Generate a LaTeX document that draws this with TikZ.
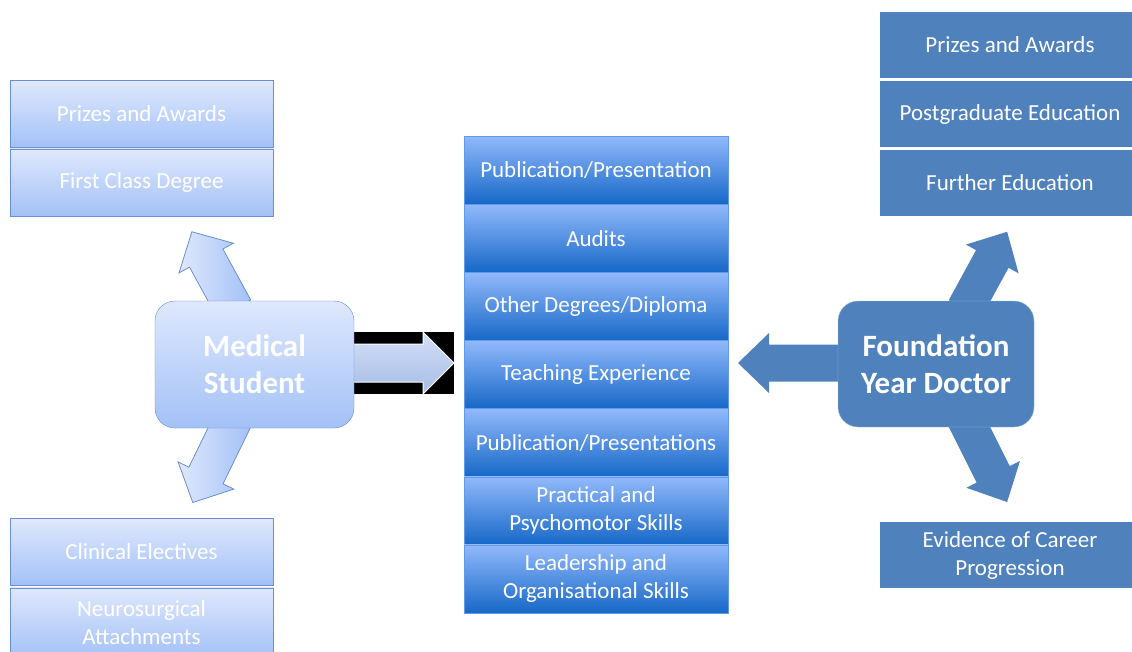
\documentclass[tikz,border=0pt]{standalone}
\usepackage{fontspec}
\setmainfont{Carlito}
\usetikzlibrary{positioning}

\definecolor{paleTop}{HTML}{DFE8FD}
\definecolor{paleBot}{HTML}{A3C1F7}
\definecolor{paleLine}{HTML}{6A8FD0}
\definecolor{midTop}{HTML}{92B9FB}
\definecolor{midMid}{HTML}{6AA0EC}
\definecolor{midBot}{HTML}{1668C8}
\definecolor{midLine}{HTML}{5E9BE8}
\definecolor{fyBlue}{HTML}{4F81BD}
\definecolor{shaftTop}{HTML}{D3DFF6}
\definecolor{shaftBot}{HTML}{A6BCE6}

\tikzset{
  boxtext/.style={text=white, align=center, inner sep=0pt,
    font=\fontsize{23}{28}\selectfont},
  palebox/.style={boxtext, draw=paleLine, top color=paleTop, bottom color=paleBot,
    minimum width=263pt, minimum height=67pt},
  midbox/.style={boxtext, draw=midLine, top color=midTop, middle color=midMid,
    bottom color=midBot, minimum width=264pt, minimum height=68.1pt},
  darkbox/.style={boxtext, fill=fyBlue, draw=white, line width=1pt,
    minimum width=262pt, minimum height=67pt},
  hub/.style={text=white, align=center, rounded corners=20pt,
    font=\fontsize{31}{37}\selectfont\bfseries},
  palearrow/.style={draw=paleLine, line width=0.8pt, left color=paleTop, right color=paleBot},
  darkarrow/.style={fill=fyBlue},
}

\begin{document}
\begin{tikzpicture}[x=1pt,y=-1pt]

  \useasboundingbox (0,0) rectangle (1132,652);
  \clip (0,0) rectangle (1132,652);

  % fat arrows first, the hubs sit on top of them
  \foreach \bx/\by/\ang/\len in {234/309/118.6/88, 234/418/-116/94}
    \draw[palearrow, shift={(\bx,\by)}, rotate=\ang]
      (0,-19) -- (\len-30,-19) -- (\len-30,-31) -- (\len,0)
      -- (\len-30,31) -- (\len-30,19) -- (0,19) -- cycle;

  \foreach \bx/\by/\ang/\len in {965/309/61.4/88, 965/418/-63.4/94, 845/363/180/107}
    \fill[darkarrow, shift={(\bx,\by)}, rotate=\ang]
      (0,-18.5) -- (\len-31,-18.5) -- (\len-31,-30) -- (\len,0)
      -- (\len-31,30) -- (\len-31,18.5) -- (0,18.5) -- cycle;

  % arrow into the middle column
  \fill[black] (354,332) rectangle (454,394);
  \draw[white, line width=1pt, top color=shaftTop, bottom color=shaftBot]
    (350,344) -- (423,344) -- (423,332) -- (454,363) -- (423,394)
    -- (423,382) -- (350,382) -- cycle;

  % medical student side
  \node[palebox] (pa1) at (141.5,114) {Prizes and Awards};
  \node[palebox, below=1pt of pa1] (fcd) {First Class Degree};
  \node[palebox] (ce) at (141.5,552) {Clinical Electives};
  \node[palebox, minimum height=70pt, below=2pt of ce] (na) {Neurosurgical\\Attachments};

  \node[hub, draw=paleLine, top color=paleTop, bottom color=paleBot,
    minimum width=199pt, minimum height=127pt] (ms) at (254.5,364.5) {Medical\\Student};

  % middle column
  \foreach \t [count=\i] in {Publication/Presentation, Audits,
      Other Degrees/Diploma, Teaching Experience, Publication/Presentations,
      {Practical and\\Psychomotor Skills}, {Leadership and\\Organisational Skills}}
    \node[midbox] (m\i) at (596,{136+68.14*(\i-0.5)}) {\t};

  % foundation year side
  \node[darkbox] (pa2) at (1010,45) {Prizes and Awards};
  \node[darkbox, below=1pt of pa2] (pge) {Postgraduate Education};
  \node[darkbox, below=1pt of pge] (fe) {Further Education};
  \node[darkbox] (ecp) at (1010,555) {Evidence of Career\\Progression};

  \node[hub, fill=fyBlue, draw=fyBlue!55!white,
    minimum width=196pt, minimum height=126pt] (fyd) at (936,364) {Foundation\\Year Doctor};

\end{tikzpicture}
\end{document}
